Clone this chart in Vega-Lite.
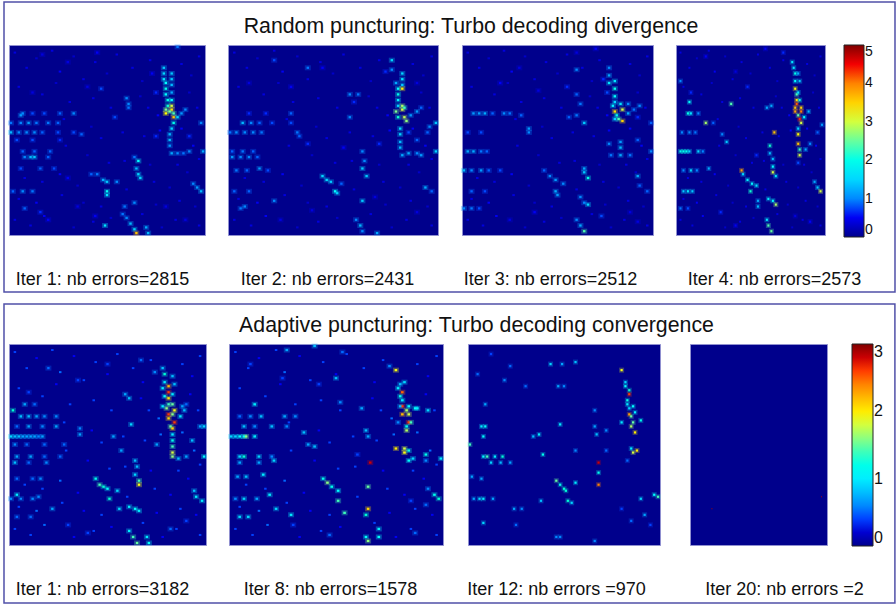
{
"$schema":"https://vega.github.io/schema/vega-lite/v6.json",
"padding":{"left":2,"top":0,"right":0,"bottom":0},
"background":"white",
"config":{"view":{"stroke":null},"font":"Liberation Sans","axis":{"labels":false,"ticks":false,"domain":false,"grid":false,"titleFont":"Liberation Sans","titleFontSize":18,"titleFontWeight":"normal","titleColor":"#111","titleBaseline":"alphabetic"},"title":{"font":"Liberation Sans","fontSize":21.3,"fontWeight":"normal","color":"#111","baseline":"alphabetic","anchor":"middle"}},
"datasets":{
"sp":[{"c":3,"r":4,"v":0.4},{"c":9,"r":12,"v":0.4},{"c":14,"r":7,"v":0.3},{"c":22,"r":3,"v":0.4},{"c":26,"r":14,"v":0.5},{"c":33,"r":6,"v":0.3},{"c":38,"r":18,"v":0.4},{"c":44,"r":9,"v":0.4},{"c":50,"r":15,"v":0.3},{"c":55,"r":5,"v":0.4},{"c":63,"r":12,"v":0.4},{"c":68,"r":19,"v":0.3},{"c":72,"r":8,"v":0.4},{"c":88,"r":10,"v":0.4},{"c":93,"r":16,"v":0.3},{"c":97,"r":6,"v":0.4},{"c":5,"r":22,"v":0.4},{"c":17,"r":26,"v":0.4},{"c":24,"r":20,"v":0.3},{"c":31,"r":30,"v":0.4},{"c":43,"r":28,"v":0.4},{"c":52,"r":33,"v":0.4},{"c":67,"r":27,"v":0.3},{"c":71,"r":33,"v":0.4},{"c":76,"r":37,"v":0.5},{"c":92,"r":25,"v":0.3},{"c":96,"r":33,"v":0.4},{"c":28,"r":39,"v":0.4},{"c":42,"r":43,"v":0.3},{"c":47,"r":49,"v":0.4},{"c":58,"r":46,"v":0.4},{"c":69,"r":48,"v":0.4},{"c":77,"r":45,"v":0.5},{"c":88,"r":44,"v":0.5},{"c":94,"r":53,"v":0.5},{"c":97,"r":60,"v":0.4},{"c":29,"r":53,"v":0.4},{"c":40,"r":58,"v":0.3},{"c":51,"r":62,"v":0.4},{"c":59,"r":61,"v":0.4},{"c":72,"r":63,"v":0.3},{"c":86,"r":63,"v":0.4},{"c":91,"r":67,"v":0.3},{"c":8,"r":70,"v":0.4},{"c":17,"r":72,"v":0.4},{"c":26,"r":68,"v":0.5},{"c":35,"r":74,"v":0.3},{"c":60,"r":76,"v":0.4},{"c":74,"r":72,"v":0.4},{"c":82,"r":75,"v":0.3},{"c":5,"r":81,"v":0.4},{"c":14,"r":83,"v":0.5},{"c":27,"r":79,"v":0.4},{"c":38,"r":83,"v":0.3},{"c":47,"r":85,"v":0.4},{"c":75,"r":84,"v":0.3},{"c":87,"r":82,"v":0.4},{"c":95,"r":85,"v":0.3},{"c":3,"r":92,"v":0.4},{"c":11,"r":95,"v":0.4},{"c":18,"r":90,"v":0.5},{"c":33,"r":96,"v":0.3},{"c":43,"r":93,"v":0.4},{"c":52,"r":91,"v":0.3},{"c":68,"r":89,"v":0.4},{"c":78,"r":96,"v":0.3},{"c":85,"r":92,"v":0.4},{"c":97,"r":95,"v":0.4}],
"t1":[{"c":79,"r":12,"v":1.4},{"c":79,"r":15,"v":1.5},{"c":79,"r":18,"v":1.6},{"c":80,"r":20,"v":1.8},{"c":80,"r":23,"v":2},{"c":80,"r":26,"v":1.8},{"c":81,"r":29,"v":2},{"c":81,"r":32,"v":2.2},{"c":80,"r":34,"v":2.6},{"c":80,"r":36,"v":3.2},{"c":83,"r":15,"v":1.4},{"c":83,"r":18,"v":1.4},{"c":83,"r":21,"v":1.3},{"c":83,"r":25,"v":1.2},{"c":83,"r":29,"v":1.8},{"c":83,"r":32,"v":3},{"c":83,"r":34,"v":3.4},{"c":84,"r":36,"v":2.4},{"c":84,"r":38,"v":3.6},{"c":82,"r":35,"v":2.5},{"c":86,"r":38,"v":1.5},{"c":88,"r":36,"v":1.1},{"c":90,"r":34,"v":1},{"c":84,"r":41,"v":2},{"c":83,"r":44,"v":1.5},{"c":82,"r":47,"v":1.3},{"c":82,"r":50,"v":1.3},{"c":82,"r":53,"v":1.1},{"c":83,"r":57,"v":1.2},{"c":86,"r":57,"v":1},{"c":89,"r":57,"v":0.9},{"c":92,"r":56,"v":1},{"c":99,"r":56,"v":1.2},{"c":98,"r":41,"v":1},{"c":7,"r":36,"v":1},{"c":12,"r":36,"v":0.7},{"c":18,"r":36,"v":0.7},{"c":26,"r":36,"v":0.8},{"c":33,"r":36,"v":1},{"c":1,"r":41,"v":0.9},{"c":6,"r":41,"v":1},{"c":10,"r":41,"v":1.1},{"c":14,"r":41,"v":0.9},{"c":20,"r":41,"v":0.9},{"c":25,"r":41,"v":0.8},{"c":1,"r":46,"v":1.3},{"c":5,"r":46,"v":1},{"c":9,"r":46,"v":1},{"c":13,"r":46,"v":1},{"c":17,"r":46,"v":0.8},{"c":25,"r":46,"v":0.7},{"c":33,"r":46,"v":0.7},{"c":4,"r":50,"v":0.7},{"c":12,"r":50,"v":0.7},{"c":26,"r":50,"v":0.6},{"c":7,"r":56,"v":0.8},{"c":13,"r":56,"v":0.8},{"c":21,"r":56,"v":0.8},{"c":8,"r":59,"v":1},{"c":11,"r":59,"v":1.3},{"c":13,"r":59,"v":1.4},{"c":20,"r":59,"v":0.8},{"c":6,"r":65,"v":0.7},{"c":16,"r":65,"v":0.8},{"c":23,"r":65,"v":0.7},{"c":2,"r":77,"v":0.8},{"c":7,"r":77,"v":1},{"c":12,"r":77,"v":0.9},{"c":8,"r":86,"v":0.8},{"c":16,"r":88,"v":0.6},{"c":60,"r":28,"v":1},{"c":61,"r":31,"v":1},{"c":61,"r":33,"v":0.9},{"c":64,"r":59,"v":0.9},{"c":66,"r":61,"v":1.8},{"c":65,"r":65,"v":1.3},{"c":66,"r":68,"v":1.5},{"c":67,"r":70,"v":1.5},{"c":42,"r":68,"v":0.8},{"c":45,"r":68,"v":0.9},{"c":48,"r":71,"v":1.2},{"c":50,"r":72,"v":1.4},{"c":55,"r":72,"v":1},{"c":50,"r":77,"v":1.9},{"c":50,"r":79,"v":1.6},{"c":59,"r":85,"v":0.9},{"c":64,"r":83,"v":1},{"c":58,"r":89,"v":0.9},{"c":60,"r":91,"v":1},{"c":62,"r":94,"v":1.3},{"c":64,"r":97,"v":1.5},{"c":65,"r":99,"v":3.6},{"c":70,"r":96,"v":1.2},{"c":71,"r":99,"v":1.3},{"c":49,"r":95,"v":1.6},{"c":94,"r":73,"v":1},{"c":96,"r":75,"v":1.1},{"c":98,"r":77,"v":1.3},{"c":6,"r":37,"v":1.1},{"c":17,"r":5,"v":0.4},{"c":30,"r":9,"v":0.4},{"c":45,"r":4,"v":0.5},{"c":12,"r":25,"v":0.4},{"c":40,"r":22,"v":0.4},{"c":47,"r":23,"v":0.7},{"c":73,"r":15,"v":0.5},{"c":75,"r":25,"v":0.6},{"c":86,"r":1,"v":0.9},{"c":20,"r":92,"v":0.5},{"c":35,"r":85,"v":0.4},{"c":44,"r":90,"v":0.5},{"c":80,"r":85,"v":0.4},{"c":90,"r":92,"v":0.4},{"c":37,"r":47,"v":0.8},{"c":54,"r":38,"v":0.7},{"c":30,"r":70,"v":0.5},{"c":75,"r":48,"v":0.6},{"c":92,"r":48,"v":0.6}],
"t2":[{"c":78,"r":8,"v":1.5},{"c":78,"r":13,"v":1},{"c":80,"r":20,"v":1.2},{"c":81,"r":23,"v":1.8},{"c":81,"r":26,"v":2},{"c":81,"r":29,"v":1.7},{"c":81,"r":32,"v":1.5},{"c":80,"r":35,"v":2.6},{"c":81,"r":38,"v":2.2},{"c":83,"r":15,"v":1.5},{"c":83,"r":18,"v":1.6},{"c":83,"r":21,"v":1.4},{"c":83,"r":23,"v":3.3},{"c":83,"r":32,"v":2.8},{"c":83,"r":34,"v":3},{"c":84,"r":33,"v":2.3},{"c":84,"r":38,"v":2.9},{"c":85,"r":40,"v":2.7},{"c":87,"r":37,"v":1.1},{"c":90,"r":35,"v":1.1},{"c":92,"r":33,"v":0.8},{"c":82,"r":44,"v":1.5},{"c":82,"r":47,"v":1.5},{"c":82,"r":51,"v":1.3},{"c":82,"r":54,"v":1.3},{"c":83,"r":58,"v":1.2},{"c":86,"r":57,"v":1.2},{"c":90,"r":57,"v":1},{"c":92,"r":58,"v":1.1},{"c":99,"r":56,"v":1.5},{"c":99,"r":41,"v":1.4},{"c":96,"r":43,"v":1},{"c":90,"r":50,"v":0.8},{"c":86,"r":46,"v":0.7},{"c":95,"r":46,"v":0.8},{"c":7,"r":41,"v":1.3},{"c":11,"r":41,"v":1},{"c":15,"r":41,"v":0.8},{"c":21,"r":41,"v":0.7},{"c":30,"r":41,"v":0.7},{"c":33,"r":46,"v":0.9},{"c":1,"r":46,"v":0.9},{"c":4,"r":46,"v":1},{"c":8,"r":46,"v":1},{"c":12,"r":46,"v":1},{"c":16,"r":46,"v":0.9},{"c":30,"r":36,"v":0.8},{"c":10,"r":36,"v":0.6},{"c":18,"r":36,"v":0.6},{"c":2,"r":56,"v":0.8},{"c":7,"r":56,"v":0.9},{"c":12,"r":56,"v":0.8},{"c":2,"r":59,"v":1.1},{"c":6,"r":59,"v":1},{"c":10,"r":59,"v":1},{"c":14,"r":59,"v":0.8},{"c":4,"r":66,"v":0.9},{"c":9,"r":66,"v":0.8},{"c":15,"r":65,"v":1.1},{"c":19,"r":66,"v":0.7},{"c":3,"r":77,"v":0.8},{"c":10,"r":77,"v":0.8},{"c":6,"r":86,"v":0.9},{"c":8,"r":85,"v":1},{"c":22,"r":82,"v":1},{"c":45,"r":69,"v":1.5},{"c":47,"r":71,"v":1.5},{"c":49,"r":72,"v":1.4},{"c":54,"r":73,"v":0.8},{"c":51,"r":77,"v":1.8},{"c":52,"r":78,"v":1.4},{"c":64,"r":56,"v":1},{"c":65,"r":61,"v":1},{"c":64,"r":65,"v":1.4},{"c":66,"r":69,"v":1.4},{"c":64,"r":82,"v":1.4},{"c":61,"r":92,"v":1},{"c":63,"r":95,"v":1.3},{"c":64,"r":98,"v":1},{"c":71,"r":99,"v":1.2},{"c":94,"r":75,"v":1.2},{"c":97,"r":77,"v":0.8},{"c":38,"r":12,"v":0.9},{"c":58,"r":26,"v":1},{"c":62,"r":26,"v":0.9},{"c":58,"r":38,"v":1},{"c":22,"r":8,"v":0.7},{"c":45,"r":12,"v":0.5},{"c":10,"r":20,"v":0.4},{"c":30,"r":22,"v":0.5},{"c":60,"r":30,"v":0.6},{"c":75,"r":14,"v":0.6},{"c":90,"r":20,"v":0.4},{"c":25,"r":92,"v":0.4},{"c":40,"r":87,"v":0.4},{"c":90,"r":88,"v":0.4},{"c":70,"r":80,"v":0.4},{"c":34,"r":48,"v":0.8},{"c":38,"r":52,"v":0.6},{"c":55,"r":54,"v":0.5},{"c":72,"r":52,"v":0.6}],
"t3":[{"c":77,"r":12,"v":1},{"c":77,"r":16,"v":1.2},{"c":77,"r":20,"v":1.6},{"c":80,"r":19,"v":1.6},{"c":80,"r":23,"v":2},{"c":80,"r":27,"v":1.8},{"c":80,"r":30,"v":1.5},{"c":79,"r":32,"v":1.7},{"c":80,"r":35,"v":3.4},{"c":81,"r":37,"v":2},{"c":84,"r":34,"v":3},{"c":83,"r":31,"v":1.6},{"c":84,"r":40,"v":3.5},{"c":82,"r":39,"v":2.4},{"c":80,"r":39,"v":1.5},{"c":87,"r":36,"v":1.2},{"c":90,"r":34,"v":0.9},{"c":93,"r":32,"v":1},{"c":87,"r":31,"v":1},{"c":83,"r":51,"v":1.1},{"c":83,"r":54,"v":1.3},{"c":83,"r":58,"v":1.2},{"c":77,"r":52,"v":1},{"c":78,"r":58,"v":0.9},{"c":88,"r":58,"v":0.9},{"c":92,"r":50,"v":0.8},{"c":99,"r":56,"v":1},{"c":99,"r":41,"v":0.8},{"c":6,"r":36,"v":1.1},{"c":9,"r":36,"v":1.1},{"c":12,"r":36,"v":1.2},{"c":16,"r":36,"v":0.8},{"c":22,"r":36,"v":1},{"c":25,"r":36,"v":0.9},{"c":31,"r":37,"v":0.8},{"c":3,"r":56,"v":1.2},{"c":6,"r":56,"v":1.2},{"c":10,"r":56,"v":0.9},{"c":13,"r":56,"v":0.8},{"c":1,"r":66,"v":1.3},{"c":5,"r":66,"v":1},{"c":10,"r":66,"v":1.1},{"c":14,"r":66,"v":0.8},{"c":20,"r":66,"v":0.7},{"c":3,"r":46,"v":0.7},{"c":10,"r":46,"v":0.7},{"c":5,"r":77,"v":0.8},{"c":12,"r":77,"v":0.7},{"c":1,"r":86,"v":1},{"c":5,"r":86,"v":0.9},{"c":9,"r":86,"v":0.7},{"c":35,"r":44,"v":1.1},{"c":35,"r":46,"v":1},{"c":60,"r":37,"v":0.9},{"c":56,"r":38,"v":0.8},{"c":64,"r":41,"v":1.4},{"c":60,"r":26,"v":0.8},{"c":62,"r":31,"v":0.9},{"c":43,"r":66,"v":0.8},{"c":46,"r":69,"v":1},{"c":49,"r":71,"v":1.1},{"c":53,"r":73,"v":1},{"c":49,"r":77,"v":1.2},{"c":50,"r":79,"v":1.1},{"c":64,"r":65,"v":1.2},{"c":64,"r":67,"v":1.4},{"c":66,"r":70,"v":2},{"c":62,"r":80,"v":1},{"c":64,"r":83,"v":1},{"c":66,"r":84,"v":1.5},{"c":60,"r":92,"v":1},{"c":62,"r":95,"v":1.2},{"c":64,"r":98,"v":2.4},{"c":92,"r":69,"v":1.2},{"c":93,"r":74,"v":0.8},{"c":97,"r":77,"v":0.8},{"c":60,"r":4,"v":0.4},{"c":70,"r":2,"v":0.5},{"c":30,"r":12,"v":0.4},{"c":20,"r":20,"v":0.5},{"c":40,"r":24,"v":0.4},{"c":55,"r":22,"v":0.6},{"c":60,"r":13,"v":1},{"c":76,"r":25,"v":0.7},{"c":74,"r":18,"v":0.6},{"c":92,"r":38,"v":0.6},{"c":25,"r":92,"v":0.4},{"c":38,"r":88,"v":0.5},{"c":73,"r":90,"v":0.7},{"c":88,"r":88,"v":0.4},{"c":92,"r":93,"v":0.4}],
"t4":[{"c":78,"r":9,"v":1.6},{"c":79,"r":12,"v":1.6},{"c":80,"r":15,"v":2},{"c":80,"r":19,"v":1.8},{"c":80,"r":23,"v":3.2},{"c":81,"r":26,"v":2.4},{"c":81,"r":29,"v":3.4},{"c":81,"r":31,"v":4.2},{"c":80,"r":33,"v":3.6},{"c":80,"r":35,"v":3.8},{"c":82,"r":37,"v":2.5},{"c":82,"r":15,"v":1.2},{"c":83,"r":19,"v":1.4},{"c":82,"r":25,"v":1.6},{"c":83,"r":29,"v":2},{"c":84,"r":33,"v":3.5},{"c":84,"r":35,"v":4},{"c":83,"r":39,"v":4.4},{"c":84,"r":41,"v":3},{"c":86,"r":38,"v":1.8},{"c":89,"r":35,"v":1.3},{"c":82,"r":44,"v":1.5},{"c":82,"r":47,"v":3.2},{"c":82,"r":52,"v":3.6},{"c":83,"r":55,"v":2.3},{"c":83,"r":58,"v":3},{"c":87,"r":55,"v":1.2},{"c":90,"r":52,"v":1},{"c":98,"r":42,"v":1.1},{"c":95,"r":46,"v":0.8},{"c":3,"r":56,"v":2},{"c":5,"r":56,"v":2},{"c":7,"r":56,"v":2},{"c":9,"r":56,"v":1.5},{"c":15,"r":56,"v":1.5},{"c":18,"r":56,"v":1},{"c":8,"r":36,"v":2},{"c":10,"r":36,"v":1.6},{"c":15,"r":36,"v":1},{"c":9,"r":30,"v":1.8},{"c":5,"r":77,"v":1.4},{"c":8,"r":77,"v":1.6},{"c":11,"r":77,"v":1.4},{"c":4,"r":46,"v":1},{"c":9,"r":46,"v":1},{"c":13,"r":46,"v":0.9},{"c":5,"r":66,"v":1},{"c":10,"r":66,"v":1.5},{"c":14,"r":66,"v":1},{"c":3,"r":86,"v":0.9},{"c":8,"r":86,"v":0.7},{"c":25,"r":41,"v":0.8},{"c":31,"r":47,"v":1},{"c":34,"r":51,"v":1.4},{"c":20,"r":41,"v":2.8},{"c":37,"r":31,"v":2.4},{"c":22,"r":65,"v":1.2},{"c":45,"r":68,"v":1.5},{"c":48,"r":71,"v":1.7},{"c":51,"r":73,"v":1.7},{"c":54,"r":74,"v":1.6},{"c":50,"r":77,"v":2.2},{"c":44,"r":66,"v":3.8},{"c":61,"r":33,"v":1.2},{"c":64,"r":32,"v":1.2},{"c":63,"r":53,"v":2.2},{"c":63,"r":57,"v":1.3},{"c":65,"r":60,"v":1.3},{"c":65,"r":64,"v":1.8},{"c":65,"r":67,"v":3},{"c":67,"r":69,"v":1.6},{"c":62,"r":81,"v":1.6},{"c":65,"r":82,"v":1.8},{"c":67,"r":84,"v":2.8},{"c":55,"r":82,"v":1.2},{"c":55,"r":85,"v":1.3},{"c":61,"r":92,"v":1.6},{"c":62,"r":95,"v":2.4},{"c":64,"r":98,"v":2.5},{"c":93,"r":72,"v":1.2},{"c":95,"r":75,"v":1.4},{"c":97,"r":77,"v":3},{"c":66,"r":46,"v":3.6},{"c":60,"r":2,"v":0.5},{"c":20,"r":6,"v":0.5},{"c":40,"r":14,"v":0.4},{"c":3,"r":19,"v":1},{"c":10,"r":25,"v":0.6},{"c":48,"r":22,"v":0.6},{"c":72,"r":4,"v":0.6},{"c":30,"r":88,"v":0.6},{"c":40,"r":95,"v":0.5},{"c":80,"r":90,"v":0.4},{"c":90,"r":93,"v":0.5},{"c":82,"r":62,"v":0.7},{"c":54,"r":58,"v":0.6}],
"b1":[{"c":78,"r":12,"v":0.8},{"c":79,"r":15,"v":1.3},{"c":79,"r":19,"v":1},{"c":78,"r":22,"v":1},{"c":79,"r":26,"v":1.1},{"c":81,"r":21,"v":2.2},{"c":81,"r":24,"v":2.6},{"c":81,"r":27,"v":2},{"c":81,"r":30,"v":1.4},{"c":80,"r":32,"v":1.6},{"c":81,"r":35,"v":2.6},{"c":81,"r":37,"v":2.1},{"c":83,"r":16,"v":0.8},{"c":84,"r":20,"v":0.8},{"c":83,"r":25,"v":1},{"c":83,"r":30,"v":1.5},{"c":84,"r":33,"v":1.9},{"c":83,"r":35,"v":1.6},{"c":84,"r":39,"v":2.6},{"c":83,"r":42,"v":2.1},{"c":82,"r":41,"v":1.5},{"c":83,"r":45,"v":1},{"c":83,"r":48,"v":1.2},{"c":83,"r":51,"v":1.4},{"c":83,"r":54,"v":1.8},{"c":83,"r":56,"v":1.6},{"c":87,"r":36,"v":1},{"c":88,"r":31,"v":0.7},{"c":89,"r":33,"v":0.8},{"c":78,"r":31,"v":1},{"c":86,"r":57,"v":0.8},{"c":90,"r":56,"v":0.7},{"c":93,"r":48,"v":0.8},{"c":97,"r":41,"v":0.7},{"c":99,"r":41,"v":0.9},{"c":99,"r":56,"v":1.1},{"c":1,"r":46,"v":0.9},{"c":3,"r":46,"v":0.8},{"c":5,"r":46,"v":0.8},{"c":7,"r":46,"v":0.7},{"c":9,"r":46,"v":0.7},{"c":11,"r":46,"v":0.7},{"c":13,"r":46,"v":0.7},{"c":15,"r":46,"v":0.6},{"c":17,"r":46,"v":0.7},{"c":6,"r":36,"v":0.8},{"c":10,"r":36,"v":0.8},{"c":14,"r":36,"v":0.7},{"c":18,"r":36,"v":0.6},{"c":24,"r":36,"v":0.6},{"c":4,"r":41,"v":0.5},{"c":10,"r":41,"v":0.7},{"c":17,"r":41,"v":0.6},{"c":24,"r":41,"v":0.7},{"c":3,"r":50,"v":0.6},{"c":9,"r":50,"v":0.5},{"c":18,"r":50,"v":0.5},{"c":28,"r":50,"v":0.5},{"c":4,"r":56,"v":0.7},{"c":11,"r":56,"v":0.7},{"c":18,"r":56,"v":0.5},{"c":26,"r":56,"v":0.5},{"c":3,"r":59,"v":0.8},{"c":10,"r":59,"v":0.5},{"c":19,"r":59,"v":0.6},{"c":4,"r":67,"v":0.5},{"c":12,"r":67,"v":0.5},{"c":16,"r":67,"v":0.6},{"c":1,"r":77,"v":0.6},{"c":6,"r":77,"v":0.6},{"c":12,"r":77,"v":0.6},{"c":15,"r":76,"v":0.6},{"c":4,"r":75,"v":1},{"c":4,"r":86,"v":0.5},{"c":11,"r":86,"v":0.5},{"c":22,"r":82,"v":0.7},{"c":8,"r":30,"v":0.7},{"c":13,"r":30,"v":0.5},{"c":2,"r":33,"v":1.3},{"c":36,"r":42,"v":0.6},{"c":36,"r":45,"v":0.7},{"c":53,"r":46,"v":0.7},{"c":57,"r":53,"v":0.7},{"c":44,"r":67,"v":1.2},{"c":46,"r":70,"v":1.4},{"c":48,"r":71,"v":1.3},{"c":50,"r":72,"v":1.1},{"c":55,"r":73,"v":0.9},{"c":51,"r":77,"v":1.3},{"c":56,"r":82,"v":0.9},{"c":64,"r":58,"v":0.8},{"c":65,"r":61,"v":0.8},{"c":64,"r":65,"v":0.9},{"c":66,"r":68,"v":1.4},{"c":66,"r":70,"v":1.9},{"c":61,"r":81,"v":1},{"c":64,"r":82,"v":1.1},{"c":66,"r":83,"v":1},{"c":61,"r":93,"v":1},{"c":63,"r":96,"v":1.4},{"c":65,"r":99,"v":1.5},{"c":70,"r":96,"v":1},{"c":71,"r":99,"v":1.1},{"c":94,"r":73,"v":0.8},{"c":95,"r":76,"v":1},{"c":98,"r":78,"v":1},{"c":59,"r":25,"v":0.7},{"c":61,"r":27,"v":0.8},{"c":62,"r":40,"v":0.9},{"c":20,"r":12,"v":0.5},{"c":35,"r":18,"v":0.4},{"c":50,"r":10,"v":0.4},{"c":67,"r":8,"v":0.5},{"c":10,"r":24,"v":0.4},{"c":30,"r":90,"v":0.4},{"c":40,"r":94,"v":0.4},{"c":82,"r":92,"v":0.5},{"c":90,"r":88,"v":0.4},{"c":74,"r":14,"v":0.6},{"c":75,"r":50,"v":0.7},{"c":90,"r":30,"v":0.5}],
"b2":[{"c":78,"r":13,"v":1.9},{"c":80,"r":20,"v":0.8},{"c":82,"r":19,"v":0.9},{"c":79,"r":22,"v":1},{"c":81,"r":24,"v":2.5},{"c":80,"r":26,"v":1.2},{"c":81,"r":28,"v":1},{"c":81,"r":31,"v":2.6},{"c":80,"r":31,"v":0.8},{"c":83,"r":33,"v":1.7},{"c":84,"r":31,"v":1.1},{"c":81,"r":35,"v":2.2},{"c":84,"r":35,"v":1.8},{"c":87,"r":32,"v":1.1},{"c":88,"r":32,"v":1},{"c":84,"r":39,"v":2.6},{"c":85,"r":39,"v":1.4},{"c":83,"r":41,"v":1.2},{"c":83,"r":43,"v":1.7},{"c":79,"r":39,"v":0.6},{"c":93,"r":33,"v":0.9},{"c":82,"r":52,"v":1.8},{"c":82,"r":54,"v":1.9},{"c":78,"r":52,"v":2},{"c":84,"r":53,"v":1.2},{"c":84,"r":58,"v":1.1},{"c":86,"r":57,"v":0.9},{"c":92,"r":55,"v":1.2},{"c":99,"r":57,"v":1},{"c":66,"r":59,"v":2.8},{"c":65,"r":71,"v":1.5},{"c":65,"r":82,"v":2.1},{"c":64,"r":85,"v":1.3},{"c":44,"r":67,"v":1.2},{"c":46,"r":69,"v":1.6},{"c":48,"r":71,"v":1.2},{"c":51,"r":73,"v":1.1},{"c":51,"r":78,"v":1.4},{"c":54,"r":84,"v":1.4},{"c":1,"r":46,"v":0.9},{"c":3,"r":46,"v":0.9},{"c":5,"r":46,"v":1.1},{"c":7,"r":46,"v":1.1},{"c":8,"r":46,"v":1.6},{"c":12,"r":46,"v":1},{"c":5,"r":36,"v":0.5},{"c":10,"r":36,"v":0.6},{"c":15,"r":36,"v":0.8},{"c":26,"r":36,"v":0.7},{"c":31,"r":36,"v":0.6},{"c":7,"r":41,"v":0.8},{"c":12,"r":41,"v":0.6},{"c":20,"r":41,"v":0.8},{"c":27,"r":41,"v":0.6},{"c":5,"r":56,"v":0.9},{"c":7,"r":56,"v":1.3},{"c":14,"r":56,"v":0.9},{"c":20,"r":56,"v":0.6},{"c":5,"r":59,"v":0.7},{"c":14,"r":59,"v":0.7},{"c":21,"r":58,"v":0.9},{"c":4,"r":66,"v":0.7},{"c":8,"r":66,"v":0.8},{"c":16,"r":65,"v":1},{"c":3,"r":77,"v":0.6},{"c":7,"r":77,"v":0.9},{"c":13,"r":77,"v":0.7},{"c":19,"r":75,"v":1},{"c":5,"r":86,"v":0.9},{"c":9,"r":86,"v":0.9},{"c":22,"r":82,"v":0.9},{"c":29,"r":85,"v":1},{"c":12,"r":30,"v":1},{"c":35,"r":44,"v":0.8},{"c":37,"r":50,"v":0.7},{"c":40,"r":51,"v":0.8},{"c":64,"r":43,"v":0.8},{"c":65,"r":46,"v":0.7},{"c":62,"r":32,"v":0.7},{"c":52,"r":29,"v":0.6},{"c":50,"r":17,"v":0.8},{"c":75,"r":11,"v":0.6},{"c":96,"r":75,"v":1.2},{"c":98,"r":77,"v":1.3},{"c":93,"r":72,"v":0.6},{"c":64,"r":96,"v":1.1},{"c":70,"r":96,"v":1.1},{"c":70,"r":92,"v":1},{"c":65,"r":98,"v":1.6},{"c":27,"r":3,"v":0.7},{"c":40,"r":1,"v":0.8},{"c":53,"r":4,"v":0.5},{"c":10,"r":10,"v":0.4},{"c":25,"r":17,"v":0.4},{"c":42,"r":20,"v":0.4},{"c":30,"r":90,"v":0.4},{"c":47,"r":95,"v":0.5},{"c":87,"r":94,"v":0.5},{"c":92,"r":80,"v":0.5},{"c":85,"r":78,"v":0.4},{"c":92,"r":58,"v":0.6},{"c":60,"r":55,"v":0.4}],
"b3":[{"c":80,"r":13,"v":1.9},{"c":82,"r":19,"v":0.9},{"c":82,"r":21,"v":1.1},{"c":84,"r":23,"v":1.3},{"c":84,"r":25,"v":2.6},{"c":83,"r":28,"v":1.2},{"c":83,"r":30,"v":1},{"c":86,"r":31,"v":1.1},{"c":87,"r":34,"v":1},{"c":84,"r":32,"v":0.9},{"c":84,"r":35,"v":2.3},{"c":85,"r":36,"v":1.5},{"c":86,"r":39,"v":1.5},{"c":85,"r":41,"v":1.7},{"c":90,"r":38,"v":1.2},{"c":80,"r":39,"v":1},{"c":87,"r":44,"v":2},{"c":88,"r":53,"v":2},{"c":86,"r":54,"v":1.8},{"c":85,"r":52,"v":1},{"c":46,"r":68,"v":1.5},{"c":48,"r":70,"v":1.2},{"c":50,"r":72,"v":1.3},{"c":51,"r":73,"v":1.3},{"c":56,"r":69,"v":1},{"c":52,"r":78,"v":1.3},{"c":54,"r":79,"v":0.9},{"c":68,"r":59,"v":2.8},{"c":68,"r":64,"v":1.2},{"c":68,"r":70,"v":2.4},{"c":8,"r":46,"v":1.1},{"c":1,"r":50,"v":1.4},{"c":8,"r":56,"v":1.1},{"c":10,"r":56,"v":1.4},{"c":14,"r":56,"v":1},{"c":18,"r":56,"v":1.3},{"c":12,"r":59,"v":0.9},{"c":17,"r":59,"v":0.8},{"c":22,"r":59,"v":0.7},{"c":3,"r":77,"v":0.7},{"c":6,"r":77,"v":0.9},{"c":8,"r":77,"v":1},{"c":13,"r":77,"v":0.7},{"c":97,"r":75,"v":1.1},{"c":99,"r":76,"v":1.4},{"c":90,"r":77,"v":0.9},{"c":48,"r":40,"v":1},{"c":37,"r":45,"v":1},{"c":34,"r":46,"v":0.8},{"c":43,"r":10,"v":0.9},{"c":56,"r":9,"v":0.8},{"c":49,"r":10,"v":0.7},{"c":9,"r":30,"v":0.7},{"c":7,"r":41,"v":1},{"c":9,"r":41,"v":1.1},{"c":38,"r":78,"v":0.8},{"c":24,"r":82,"v":0.7},{"c":28,"r":82,"v":0.6},{"c":8,"r":89,"v":0.9},{"c":39,"r":55,"v":1.2},{"c":56,"r":53,"v":0.6},{"c":67,"r":45,"v":0.8},{"c":66,"r":41,"v":0.7},{"c":66,"r":33,"v":0.6},{"c":72,"r":43,"v":0.6},{"c":2,"r":66,"v":0.7},{"c":7,"r":67,"v":0.7},{"c":12,"r":5,"v":0.4},{"c":22,"r":11,"v":0.5},{"c":5,"r":15,"v":0.5},{"c":30,"r":21,"v":0.5},{"c":47,"r":21,"v":0.7},{"c":50,"r":21,"v":0.6},{"c":19,"r":18,"v":0.6},{"c":25,"r":90,"v":0.5},{"c":46,"r":96,"v":0.6},{"c":48,"r":96,"v":0.6},{"c":66,"r":98,"v":0.6},{"c":85,"r":88,"v":0.5},{"c":92,"r":85,"v":0.7},{"c":95,"r":90,"v":0.4},{"c":80,"r":82,"v":0.4},{"c":83,"r":58,"v":0.5},{"c":72,"r":53,"v":0.5}],
"b4":[{"c":16,"r":82,"v":2.9},{"c":96,"r":76,"v":2.9}]
},
"vconcat":[
{"hconcat":[
{"width":196,"height":190,"view":{"fill":"#00008c","stroke":"#9090d0"},"title":{"text":"Random puncturing: Turbo decoding divergence","offset":-36,"dx":364},
"layer":[
{"encoding":{"x":{"field":"c","type":"quantitative","scale":{"domain":[0,100]},"axis":{"title":"Iter 1: nb errors=2815","titleX":93,"titleY":49}},"y":{"field":"r","type":"quantitative","scale":{"domain":[100,0]},"axis":null},"color":{"field":"v","type":"quantitative","scale":{"domain":[0,0.55,1.8,3.2,4.45,5],"range":["#00008c","#0000ff","#00ffff","#ffff00","#ff0000","#800000"]},"legend":null}},
"layer":[{"data":{"name":"t1"},"mark":{"type":"rect","width":6,"height":5,"fillOpacity":0.3}},{"data":{"name":"sp"},"mark":{"type":"rect","width":2.5,"height":2}},{"data":{"name":"t1"},"mark":{"type":"rect","width":2.4,"height":2.2}}]},
{"data":{"values":[{}]},"mark":{"type":"rect","fill":"transparent","stroke":"#5050a8","strokeWidth":1.5},"encoding":{"x":{"datum":-2.55,"type":"quantitative"},"x2":{"datum":452.04},"y":{"datum":-22.63,"type":"quantitative"},"y2":{"datum":130}}}
]},
{"width":23,"height":1,"data":{"values":[]},"mark":"text","encoding":{}},
{"width":210,"height":190,"view":{"fill":"#00008c","stroke":"#9090d0"},
"encoding":{"x":{"field":"c","type":"quantitative","scale":{"domain":[0,100]},"axis":{"title":"Iter 2: nb errors=2431","titleX":99,"titleY":49}},"y":{"field":"r","type":"quantitative","scale":{"domain":[100,0]},"axis":null},"color":{"field":"v","type":"quantitative","scale":{"domain":[0,0.55,1.8,3.2,4.45,5],"range":["#00008c","#0000ff","#00ffff","#ffff00","#ff0000","#800000"]},"legend":null}},
"layer":[{"data":{"name":"t2"},"mark":{"type":"rect","width":6,"height":5,"fillOpacity":0.3}},{"data":{"name":"sp"},"mark":{"type":"rect","width":2.5,"height":2}},{"data":{"name":"t2"},"mark":{"type":"rect","width":2.4,"height":2.2}}]},
{"width":24,"height":1,"data":{"values":[]},"mark":"text","encoding":{}},
{"width":191,"height":190,"view":{"fill":"#00008c","stroke":"#9090d0"},
"encoding":{"x":{"field":"c","type":"quantitative","scale":{"domain":[0,100]},"axis":{"title":"Iter 3: nb errors=2512","titleX":88,"titleY":49}},"y":{"field":"r","type":"quantitative","scale":{"domain":[100,0]},"axis":null},"color":{"field":"v","type":"quantitative","scale":{"domain":[0,0.55,1.8,3.2,4.45,5],"range":["#00008c","#0000ff","#00ffff","#ffff00","#ff0000","#800000"]},"legend":null}},
"layer":[{"data":{"name":"t3"},"mark":{"type":"rect","width":6,"height":5,"fillOpacity":0.3}},{"data":{"name":"sp"},"mark":{"type":"rect","width":2.5,"height":2}},{"data":{"name":"t3"},"mark":{"type":"rect","width":2.4,"height":2.2}}]},
{"width":23,"height":1,"data":{"values":[]},"mark":"text","encoding":{}},
{"width":149,"height":190,"view":{"fill":"#00008c","stroke":"#9090d0"},
"encoding":{"x":{"field":"c","type":"quantitative","scale":{"domain":[0,100]},"axis":{"title":"Iter 4: nb errors=2573","titleX":98,"titleY":49}},"y":{"field":"r","type":"quantitative","scale":{"domain":[100,0]},"axis":null},"color":{"field":"v","type":"quantitative","scale":{"domain":[0,0.55,1.8,3.2,4.45,5],"range":["#00008c","#0000ff","#00ffff","#ffff00","#ff0000","#800000"]},"legend":{"orient":"right","offset":19,"title":null,"padding":0,"gradientLength":192,"gradientThickness":20,"gradientStrokeColor":"#222","gradientStrokeWidth":1,"values":[0,1,2,3,4,5],"labelFontSize":14,"labelFont":"Liberation Sans","labelColor":"#111","labelOffset":1,"labelOverlap":false}}},
"layer":[{"data":{"name":"t4"},"mark":{"type":"rect","width":5,"height":5,"fillOpacity":0.3}},{"data":{"name":"sp"},"mark":{"type":"rect","width":2,"height":2}},{"data":{"name":"t4"},"mark":{"type":"rect","width":2,"height":2.2}}]}
],"spacing":0,"bounds":"flush","resolve":{"scale":{"color":"independent"}}},
{"hconcat":[
{"width":197,"height":201,"view":{"fill":"#00008c","stroke":"#9090d0"},"title":{"text":"Adaptive puncturing: Turbo decoding convergence","offset":-33,"dx":369},
"layer":[
{"encoding":{"x":{"field":"c","type":"quantitative","scale":{"domain":[0,100]},"axis":{"title":"Iter 1: nb errors=3182","titleX":93,"titleY":49}},"y":{"field":"r","type":"quantitative","scale":{"domain":[100,0]},"axis":null},"color":{"field":"v","type":"quantitative","scale":{"domain":[0,0.33,1.08,1.92,2.67,3],"range":["#00008c","#0000ff","#00ffff","#ffff00","#ff0000","#800000"]},"legend":null}},
"layer":[{"data":{"name":"b1"},"mark":{"type":"rect","width":6,"height":5,"fillOpacity":0.3}},{"data":{"name":"sp"},"mark":{"type":"rect","width":2.5,"height":2}},{"data":{"name":"b1"},"mark":{"type":"rect","width":2.4,"height":2.2}}]},
{"data":{"values":[{}]},"mark":{"type":"rect","fill":"transparent","stroke":"#5050a8","strokeWidth":1.5},"encoding":{"x":{"datum":-2.54,"type":"quantitative"},"x2":{"datum":449.7},"y":{"datum":-19.9,"type":"quantitative"},"y2":{"datum":128.86}}}
]},
{"width":23,"height":1,"data":{"values":[]},"mark":"text","encoding":{}},
{"width":214,"height":201,"view":{"fill":"#00008c","stroke":"#9090d0"},
"encoding":{"x":{"field":"c","type":"quantitative","scale":{"domain":[0,100]},"axis":{"title":"Iter 8: nb errors=1578","titleX":101,"titleY":49}},"y":{"field":"r","type":"quantitative","scale":{"domain":[100,0]},"axis":null},"color":{"field":"v","type":"quantitative","scale":{"domain":[0,0.33,1.08,1.92,2.67,3],"range":["#00008c","#0000ff","#00ffff","#ffff00","#ff0000","#800000"]},"legend":null}},
"layer":[{"data":{"name":"b2"},"mark":{"type":"rect","width":6,"height":5,"fillOpacity":0.3}},{"data":{"name":"sp"},"mark":{"type":"rect","width":2.5,"height":2}},{"data":{"name":"b2"},"mark":{"type":"rect","width":2.6,"height":2.2}}]},
{"width":25,"height":1,"data":{"values":[]},"mark":"text","encoding":{}},
{"width":192,"height":201,"view":{"fill":"#00008c","stroke":"#9090d0"},
"encoding":{"x":{"field":"c","type":"quantitative","scale":{"domain":[0,100]},"axis":{"title":"Iter 12: nb errors =970","titleX":88,"titleY":49}},"y":{"field":"r","type":"quantitative","scale":{"domain":[100,0]},"axis":null},"color":{"field":"v","type":"quantitative","scale":{"domain":[0,0.33,1.08,1.92,2.67,3],"range":["#00008c","#0000ff","#00ffff","#ffff00","#ff0000","#800000"]},"legend":null}},
"layer":[{"data":{"name":"b3"},"mark":{"type":"rect","width":5,"height":5,"fillOpacity":0.25}},{"data":{"name":"b3"},"mark":{"type":"rect","width":2.2,"height":2.2}}]},
{"width":30,"height":1,"data":{"values":[]},"mark":"text","encoding":{}},
{"width":137,"height":201,"data":{"name":"b4"},"view":{"fill":"#00008c","stroke":"#9090d0"},"mark":{"type":"rect","width":1,"height":1},"encoding":{"x":{"field":"c","type":"quantitative","scale":{"domain":[0,100]},"axis":{"title":"Iter 20: nb errors =2","titleX":94,"titleY":49}},"y":{"field":"r","type":"quantitative","scale":{"domain":[100,0]},"axis":null},"color":{"field":"v","type":"quantitative","scale":{"domain":[0,0.33,1.08,1.92,2.67,3],"range":["#00008c","#0000ff","#00ffff","#ffff00","#ff0000","#800000"]},"legend":{"orient":"right","offset":25,"title":null,"padding":0,"gradientLength":202,"gradientThickness":21,"gradientStrokeColor":"#222","gradientStrokeWidth":1,"values":[0,1,2,3],"labelFontSize":16,"labelFont":"Liberation Sans","labelColor":"#111","labelOffset":1,"labelOverlap":false}}}}
],"spacing":0,"bounds":"flush","resolve":{"scale":{"color":"independent"}}}
],"spacing":8}
